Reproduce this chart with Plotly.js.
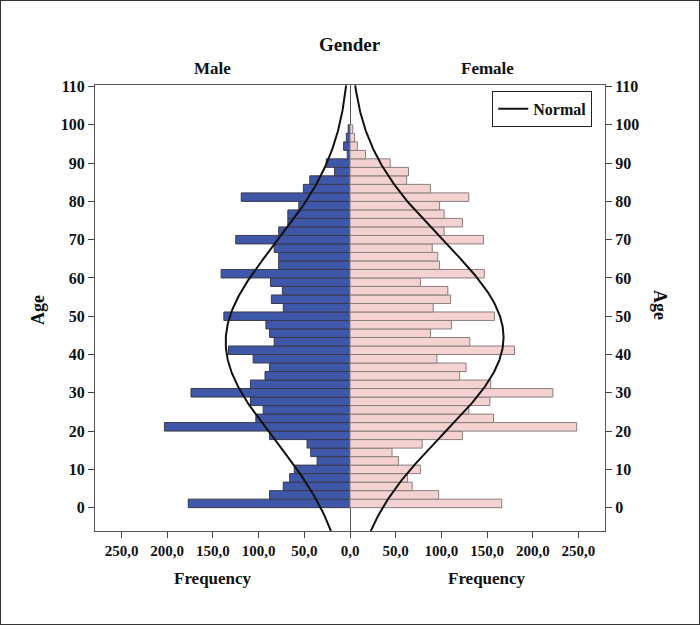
<!DOCTYPE html>
<html>
<head>
<meta charset="utf-8">
<script src="https://cdn.plot.ly/plotly-3.0.1.min.js"></script>
<style>
  html, body { margin: 0; padding: 0; background: #fff; }
  #wrap { width: 700px; height: 625px; box-sizing: border-box; border: 1px solid #333; }
  #chart { width: 698px; height: 623px; }
</style>
</head>
<body>
<div id="wrap"><div id="chart"></div></div>
<script>
// Age bin midpoints (45 bins of width 100/45 from 0 to 100)
const ageMid = [1.11, 3.33, 5.56, 7.78, 10.00, 12.22, 14.44, 16.67, 18.89, 21.11,
  23.33, 25.56, 27.78, 30.00, 32.22, 34.44, 36.67, 38.89, 41.11, 43.33,
  45.56, 47.78, 50.00, 52.22, 54.44, 56.67, 58.89, 61.11, 63.33, 65.56,
  67.78, 70.00, 72.22, 74.44, 76.67, 78.89, 81.11, 83.33, 85.56, 87.78,
  90.00, 92.22, 94.44, 96.67, 98.89];
const binWidth = 2.2222;

const maleFreq = [177, 88, 73, 66, 61, 36, 43, 47, 88, 203,
  103, 95, 109, 174, 109, 93, 88, 106, 133, 83,
  88, 92, 138, 73, 86, 74, 87, 141, 78, 78,
  83, 125, 78, 68, 68, 56, 119, 51, 44, 17,
  26, 3, 7, 4, 2];
const femaleFreq = [166, 97, 68, 63, 77, 53, 46, 79, 123, 248,
  157, 130, 153, 222, 154, 120, 127, 95, 180, 131,
  88, 111, 158, 91, 110, 107, 77, 147, 98, 96,
  90, 146, 103, 123, 103, 98, 130, 88, 62, 64,
  44, 17, 8, 5, 3];

// Fitted normal curve parameters: [male, female]
const normalMean = [43.3, 44.5];
const normalSD = [25.5, 25.3];
const normalPeak = [136, 168];

const freqTickVals = [-250, -200, -150, -100, -50, 0, 50, 100, 150, 200, 250];
const freqTickText = ['250,0', '200,0', '150,0', '100,0', '50,0', '0,0', '50,0', '100,0', '150,0', '200,0', '250,0'];
const ageTicks = [0, 10, 20, 30, 40, 50, 60, 70, 80, 90, 100, 110];

const yRange = [-6.1, 110.4];
const xRange = [-279, 279];

function curve(idx, sign) {
  const ys = [], xs = [];
  for (let a = yRange[0]; a <= yRange[1] + 1e-9; a += 0.4) {
    const z = (a - normalMean[idx]) / normalSD[idx];
    ys.push(a);
    xs.push(sign * normalPeak[idx] * Math.exp(-0.5 * z * z));
  }
  return {xs, ys};
}
const mc = curve(0, -1), fc = curve(1, 1);

const FONT = 'Liberation Serif, Times New Roman, serif';

const traces = [
  {
    type: 'bar', orientation: 'h', y: ageMid, x: maleFreq.map(v => -v), width: binWidth,
    marker: {color: '#3F57A9', line: {color: '#3a3a4a', width: 1}}, showlegend: false, hoverinfo: 'skip'
  },
  {
    type: 'bar', orientation: 'h', y: ageMid, x: femaleFreq, width: binWidth,
    marker: {color: '#F4D2D2', line: {color: '#8a7e7e', width: 1}}, showlegend: false, hoverinfo: 'skip'
  },
  {
    type: 'scatter', mode: 'lines', x: mc.xs, y: mc.ys, line: {color: '#111', width: 2},
    showlegend: false, hoverinfo: 'skip'
  },
  {
    type: 'scatter', mode: 'lines', x: fc.xs, y: fc.ys, line: {color: '#111', width: 2},
    name: 'Normal', showlegend: true, hoverinfo: 'skip'
  },
  {
    type: 'scatter', mode: 'markers', x: [0], y: [50], yaxis: 'y2', marker: {opacity: 0},
    showlegend: false, hoverinfo: 'skip'
  }
];

const xFont = {family: FONT, size: 15, color: '#111', weight: 'bold'};
const yFont = {family: FONT, size: 16, color: '#111', weight: 'bold'};

const layout = {
  width: 698, height: 623,
  margin: {l: 94, r: 94, t: 84, b: 93},
  paper_bgcolor: '#fff', plot_bgcolor: '#fff',
  barmode: 'overlay', bargap: 0,
  font: {family: FONT, color: '#111'},
  xaxis: {
    range: xRange, tickvals: freqTickVals, ticktext: freqTickText,
    ticks: 'outside', ticklen: 6, tickcolor: '#444', tickwidth: 1,
    showline: true, linecolor: '#555', linewidth: 1, mirror: true,
    showgrid: false, zeroline: true, zerolinecolor: '#555', zerolinewidth: 1,
    tickfont: xFont, fixedrange: true
  },
  yaxis: {
    range: yRange, tickvals: ageTicks,
    ticks: 'outside', ticklen: 6, tickcolor: '#444', tickwidth: 1,
    showline: true, linecolor: '#555', linewidth: 1, mirror: true,
    showgrid: false, zeroline: false, tickfont: yFont, fixedrange: true
  },
  yaxis2: {
    range: yRange, tickvals: ageTicks, overlaying: 'y', side: 'right',
    ticks: 'outside', ticklen: 6, tickcolor: '#444', tickwidth: 1,
    showline: true, linecolor: '#555', linewidth: 1,
    showgrid: false, zeroline: false, tickfont: yFont, fixedrange: true
  },
  legend: {
    x: 0.975, y: 0.987, xanchor: 'right', yanchor: 'top',
    bgcolor: '#fff', bordercolor: '#222', borderwidth: 1,
    font: {family: FONT, size: 16, color: '#111', weight: 'bold'},
    itemwidth: 30, tracegroupgap: 0
  },
  annotations: [
    {text: 'Gender', xref: 'paper', yref: 'paper', x: 0.5, y: 1.0 + (84 - 44) / 446, yanchor: 'middle', showarrow: false,
      font: {family: FONT, size: 19, color: '#111', weight: 'bold'}},
    {text: 'Male', xref: 'x', yref: 'paper', x: -150, y: 1.0 + (84 - 68) / 446, yanchor: 'middle', showarrow: false,
      font: {family: FONT, size: 17, color: '#111', weight: 'bold'}},
    {text: 'Female', xref: 'x', yref: 'paper', x: 150, y: 1.0 + (84 - 68) / 446, yanchor: 'middle', showarrow: false,
      font: {family: FONT, size: 17, color: '#111', weight: 'bold'}},
    {text: 'Frequency', xref: 'x', yref: 'paper', x: -150, y: -(578 - 531) / 446, yanchor: 'middle', showarrow: false,
      font: {family: FONT, size: 17, color: '#111', weight: 'bold'}},
    {text: 'Frequency', xref: 'x', yref: 'paper', x: 150, y: -(578 - 531) / 446, yanchor: 'middle', showarrow: false,
      font: {family: FONT, size: 17, color: '#111', weight: 'bold'}},
    {text: 'Age', xref: 'paper', yref: 'paper', x: -(95 - 38) / 510, y: (531 - 310) / 446, xanchor: 'center', yanchor: 'middle',
      textangle: -90, showarrow: false, font: {family: FONT, size: 18, color: '#111', weight: 'bold'}},
    {text: 'Age', xref: 'paper', yref: 'paper', x: 1 + (660 - 605) / 510, y: (531 - 305) / 446, xanchor: 'center', yanchor: 'middle',
      textangle: 90, showarrow: false, font: {family: FONT, size: 18, color: '#111', weight: 'bold'}}
  ]
};

Plotly.newPlot('chart', traces, layout, {staticPlot: true, displayModeBar: false});
</script>
</body>
</html>
